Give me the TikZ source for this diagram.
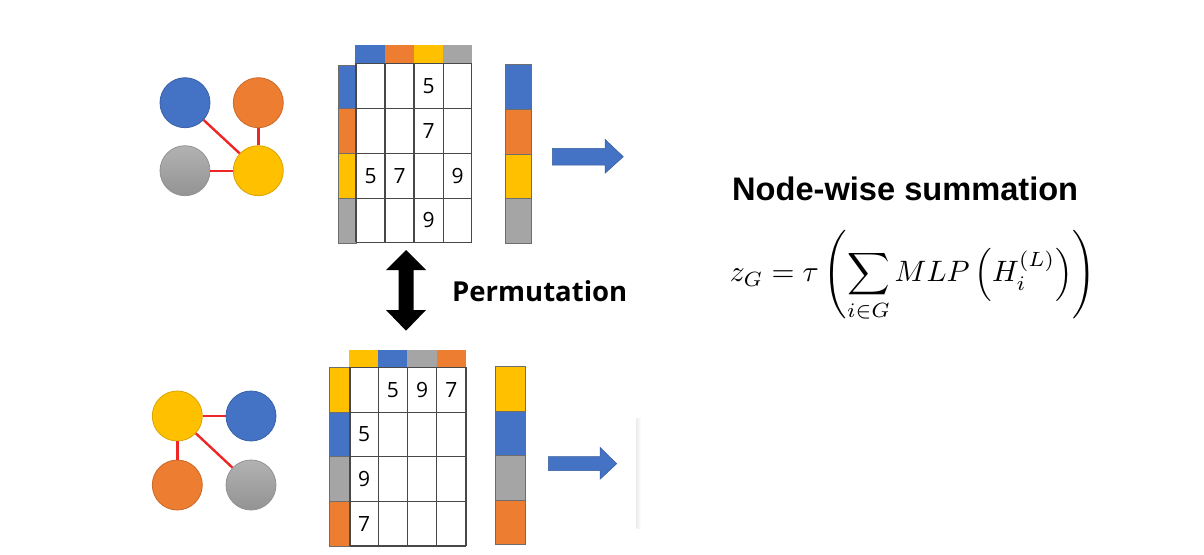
\documentclass[tikz,border=0pt]{standalone}
\usepackage{fontspec}
\usepackage{graphicx}
\setmainfont{Open Sans}
\newfontfamily\headfont{Liberation Sans}
\definecolor{cblue}{HTML}{4472C4}
\definecolor{corange}{HTML}{ED7D31}
\definecolor{cyellow}{HTML}{FFC000}
\definecolor{cgray}{HTML}{A5A5A5}
\definecolor{gtop}{HTML}{B2B2B2}
\definecolor{gbot}{HTML}{939393}
\definecolor{cred}{HTML}{EE2626}
\definecolor{gridc}{HTML}{484848}
\begin{document}
\begin{tikzpicture}[x=1pt,y=-1pt,
  gnode/.style={circle,minimum size=50pt,inner sep=0pt,line width=0.8pt},
  gedge/.style={cred,line width=2.4pt},
  gridline/.style={gridc,line width=1.3pt},
  bar/.style={draw=gridc!80,line width=0.7pt},
  digit/.style={font=\fontsize{21}{24}\selectfont,inner sep=0pt},
  barrow/.style={fill=cblue,draw=cblue!80!black,line width=0.5pt}]
\useasboundingbox (0,0) rectangle (1204,554);
\fill[white] (0,0) rectangle (1204,554);

% ---------- top graph ----------
\node[gnode,fill=cblue,draw=cblue!85!black] (tb) at (185,102.7) {};
\node[gnode,fill=corange,draw=corange!85!black] (to) at (258.3,102.7) {};
\node[gnode,top color=gtop,bottom color=gbot,draw=gbot] (tg) at (185,170.7) {};
\node[gnode,fill=cyellow,draw=cyellow!85!black] (ty) at (258.3,170.7) {};
\draw[gedge] (tb) -- (ty);
\draw[gedge] (to) -- (ty);
\draw[gedge] (tg) -- (ty);

% ---------- top matrix ----------
\fill[cblue]   (355,45) rectangle (384.5,63.3);
\fill[corange] (384.5,45) rectangle (413.8,63.3);
\fill[cyellow] (413.8,45) rectangle (443.2,63.3);
\fill[cgray]   (443.2,45) rectangle (471.7,63.3);
\draw[bar,fill=cblue]   (338.3,65) rectangle (356,108.3);
\draw[bar,fill=corange] (338.3,108.3) rectangle (356,153.3);
\draw[bar,fill=cyellow] (338.3,153.3) rectangle (356,198.3);
\draw[bar,fill=cgray]   (338.3,198.3) rectangle (356,243);
\foreach \x in {356,385,414,443.3,471.7} \draw[gridline] (\x,63.3) -- (\x,242.3);
\foreach \y in {63.3,108.3,153.3,198.3,242.3} \draw[gridline] (356,\y) -- (471.7,\y);
\node[digit] (ta13) at (428.7,85.8) {5};
\node[digit] (ta23) at (428.7,130.8) {7};
\node[digit] (ta31) at (370.5,175.8) {5};
\node[digit] (ta32) at (399.5,175.8) {7};
\node[digit] (ta34) at (457.5,175.8) {9};
\node[digit] (ta43) at (428.7,220.3) {9};

% ---------- top vector ----------
\draw[bar,fill=cblue]   (505,64) rectangle (531.7,109.3);
\draw[bar,fill=corange] (505,109.3) rectangle (531.7,154);
\draw[bar,fill=cyellow] (505,154) rectangle (531.7,198.3);
\draw[bar,fill=cgray]   (505,198.3) rectangle (531.7,243.3);
\path[barrow] (552.3,148.3) -- (605,148.3) -- (605,139.3) -- (623.3,156.7) -- (605,173.3) -- (605,165) -- (552.3,165) -- cycle;

% ---------- permutation ----------
\path[fill=black] (406,250) -- (426,270) -- (413.5,270) -- (413.5,310) -- (426,310) -- (406,330.7)
  -- (386,310) -- (398.5,310) -- (398.5,270) -- (386,270) -- cycle;
\node[font=\fontsize{27.5}{30}\selectfont\bfseries,anchor=base west,inner sep=0pt] (perm) at (452,301.5) {Permutation};

% ---------- bottom graph ----------
\node[gnode,fill=cyellow,draw=cyellow!85!black] (by) at (177.3,416) {};
\node[gnode,fill=cblue,draw=cblue!85!black] (bb) at (251,416) {};
\node[gnode,fill=corange,draw=corange!85!black] (bo) at (177.3,485) {};
\node[gnode,top color=gtop,bottom color=gbot,draw=gbot] (bg) at (251,485) {};
\draw[gedge] (by) -- (bb);
\draw[gedge] (by) -- (bo);
\draw[gedge] (by) -- (bg);

% ---------- bottom matrix ----------
\fill[cyellow] (349,350) rectangle (378.3,367.3);
\fill[cblue]   (378.3,350) rectangle (407.3,367.3);
\fill[cgray]   (407.3,350) rectangle (436.7,367.3);
\fill[corange] (436.7,350) rectangle (466,367.3);
\draw[bar,fill=cyellow] (329.3,367.3) rectangle (350,412.3);
\draw[bar,fill=cblue]   (329.3,412.3) rectangle (350,456.7);
\draw[bar,fill=cgray]   (329.3,456.7) rectangle (350,501.7);
\draw[bar,fill=corange] (329.3,501.7) rectangle (350,546);
\foreach \x in {350,378.3,407.3,436.7,466} \draw[gridline] (\x,367.3) -- (\x,546);
\foreach \y in {367.3,412.3,456.7,501.7,546} \draw[gridline] (350,\y) -- (466,\y);
\node[digit] (ba12) at (392.8,389.8) {5};
\node[digit] (ba13) at (422,389.8) {9};
\node[digit] (ba14) at (451.3,389.8) {7};
\node[digit] (ba21) at (364.2,434.5) {5};
\node[digit] (ba31) at (364.2,479.2) {9};
\node[digit] (ba41) at (364.2,523.8) {7};

% ---------- bottom vector ----------
\draw[bar,fill=cyellow] (495.7,366.7) rectangle (525,411);
\draw[bar,fill=cblue]   (495.7,411) rectangle (525,455.7);
\draw[bar,fill=cgray]   (495.7,455.7) rectangle (525,500);
\draw[bar,fill=corange] (495.7,500) rectangle (525,544);
\path[barrow] (548.3,456.7) -- (600,456.7) -- (600,447.3) -- (616.7,463.7) -- (600,479.3) -- (600,470.7) -- (548.3,470.7) -- cycle;
\shade[left color=black!7,right color=white] (636.5,418) rectangle (641,528);

% ---------- formula ----------
\node[font=\fontsize{32.6}{36}\selectfont\headfont\bfseries,anchor=base west,inner sep=0pt] (title) at (732,200) {Node-wise summation};
\node[inner sep=0pt] (formula) at (913,276) {\scalebox{2.95}{$\displaystyle z_G=\tau\left(\sum_{i\in G} MLP\left(H_i^{(L)}\right)\right)$}};
\end{tikzpicture}
\end{document}
